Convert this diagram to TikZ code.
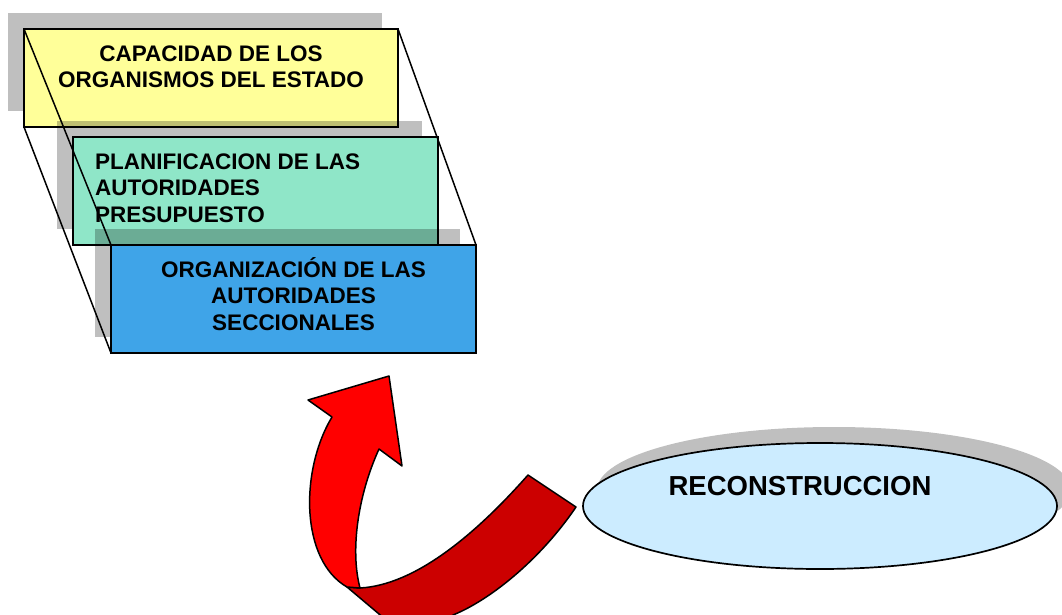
\documentclass[tikz,border=0pt]{standalone}
\usepackage{fontspec}
\setmainfont{Liberation Sans}
\usetikzlibrary{shapes.geometric,calc}
\definecolor{ybox}{HTML}{FFFF99}
\definecolor{gbox}{HTML}{8FE6C8}
\definecolor{bbox}{HTML}{3FA4E8}
\definecolor{ellfill}{HTML}{CCECFF}
\definecolor{rlight}{HTML}{FF0000}
\definecolor{rdark}{HTML}{CC0000}
\begin{document}
\begin{tikzpicture}[x=1pt,y=-1pt,
  layerbox/.style={draw=black,line width=1.7pt,rectangle,inner sep=0pt,outer sep=0pt,anchor=north west},
  shade/.style={fill=black,fill opacity=0.25},
  boxtext/.style={inner sep=0pt,font=\fontsize{22.5}{26.5}\selectfont\bfseries},
  edge/.style={draw=black,line width=1.5pt},
  arrowpart/.style={draw=black,line width=1.5pt,line join=round}]
\useasboundingbox (0,0) rectangle (1062,615);
\clip (0,0) rectangle (1062,615);
% layer 1
\fill[shade] (8,13) rectangle ++(374,98);
\node[layerbox,fill=ybox,minimum width=374pt,minimum height=98pt] (yb) at (24,29) {};
% layer 2
\fill[shade] (57,121) rectangle ++(365,108);
\node[layerbox,fill=gbox,minimum width=365pt,minimum height=108pt] (gb) at (73,137) {};
% layer 3
\fill[shade] (95,229) rectangle ++(365,108);
\node[layerbox,fill=bbox,minimum width=365pt,minimum height=108pt] (bb) at (111,245) {};
% connecting edges
\draw[edge] (yb.north west) -- (bb.north west);
\draw[edge] (yb.south west) -- (bb.south west);
\draw[edge] (yb.north east) -- (bb.north east);
% texts
\node[boxtext,align=center,anchor=north] (yt) at ($(yb.north)+(0,12)$)
  {\rule{0pt}{20pt}CAPACIDAD DE LOS\\ORGANISMOS DEL ESTADO};
\node[boxtext,align=left,anchor=north west] (gt) at ($(gb.north west)+(22,12)$)
  {\rule{0pt}{20pt}PLANIFICACION DE LAS\\AUTORIDADES\\PRESUPUESTO};
\node[boxtext,align=center,anchor=north] (bt) at ($(bb.north)+(0,12)$)
  {\rule{0pt}{20pt}ORGANIZACIÓN DE LAS\\AUTORIDADES\\SECCIONALES};
% curved arrow
\filldraw[arrowpart,fill=rdark] (347,587) -- (398,630) -- (445,630) -- (453,615)
  .. controls (490,600) and (540,560) .. (576,507) -- (528,475)
  .. controls (475,535) and (415,585) .. (360,588) -- cycle;
\filldraw[arrowpart,fill=rlight] (389,376) -- (402,466) -- (379,449)
  .. controls (358,495) and (350,550) .. (360,588) -- (347,587)
  .. controls (300,560) and (300,470) .. (332,417) -- (308,400) -- cycle;
% ellipse
\node[ellipse,shade,minimum width=474pt,minimum height=126pt,inner sep=0pt] (es) at (834,490) {};
\node[ellipse,draw=black,line width=1.7pt,fill=ellfill,minimum width=474pt,minimum height=126pt,inner sep=0pt] (el) at (820,506) {};
\node[inner sep=0pt,font=\fontsize{27.5}{32}\selectfont\bfseries] (et) at (800,486) {RECONSTRUCCION};
\end{tikzpicture}
\end{document}
